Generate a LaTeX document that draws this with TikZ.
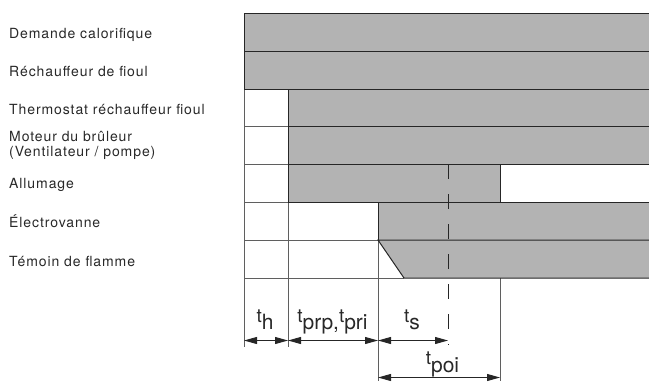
\documentclass[tikz,border=0pt]{standalone}
\usepackage{fontspec}
\setmainfont{TeX Gyre Heros}
\newfontfamily\lblfont{TeX Gyre Heros}[LetterSpace=6.5]
\usetikzlibrary{arrows.meta}
\definecolor{barfill}{RGB}{179,179,179}
\definecolor{txt}{RGB}{40,40,40}
\definecolor{gridc}{RGB}{95,95,95}
\newcommand\tsb[1]{{\fontsize{19}{21}\selectfont t}\raisebox{-7.5pt}{\fontsize{21}{23}\selectfont #1}}
\begin{document}
\begin{tikzpicture}[x=1pt,y=-1pt,
  lbl/.style={anchor=base west, font=\lblfont\fontsize{14}{16}\selectfont, text=txt, inner sep=0pt},
  bar/.style={fill=barfill, draw=black!85, line width=1pt},
  gridline/.style={draw=gridc, line width=0.8pt},
  dashline/.style={draw=black!85, line width=0.8pt, dash pattern=on 15pt off 15pt},
  dim/.style={{Triangle[length=13pt,width=7pt]}-{Triangle[length=13pt,width=7pt]}, line width=0.9pt, draw=black!85, fill=black!85},
  tlab/.style={anchor=base, inner sep=0pt, text=txt, font=\fontsize{21}{23}\selectfont}]
\useasboundingbox (0,0) rectangle (649,381);
% left labels
\node[lbl] (l1) at (9,38) {Demande calorifique};
\node[lbl] (l2) at (9,76) {Réchauffeur de fioul};
\node[lbl] (l3) at (9,114) {Thermostat réchauffeur fioul};
\node[lbl] (l4a) at (9,141.5) {Moteur du brûleur};
\node[lbl] (l4b) at (9,156) {(Ventilateur / pompe)};
\node[lbl] (l5) at (9,188) {Allumage};
\node[lbl] (l6) at (9,227) {Électrovanne};
\node[lbl] (l7) at (9,266) {Témoin de flamme};
% grid lines
\draw[gridline] (244,13) -- (244,347);
\draw[gridline] (288,89) -- (288,347);
\draw[gridline] (378,202) -- (378,381);
\draw[gridline] (500,278) -- (500,381);
\draw[gridline] (244,126) -- (288,126);
\draw[gridline] (244,164) -- (288,164);
\draw[gridline] (244,202) -- (378,202);
\draw[gridline] (244,240) -- (378,240);
\draw[gridline] (244,278) -- (404,278);
% bars
\draw[bar] (244,13) rectangle (656,51);
\draw[bar] (244,51) rectangle (656,89);
\draw[bar] (288,89) rectangle (656,126);
\draw[bar] (288,126) rectangle (656,164);
\draw[bar] (288,164) rectangle (500,202);
\draw[bar] (378,202) rectangle (656,240);
\draw[bar] (378,240) -- (656,240) -- (656,278) -- (404,278) -- cycle;
% dashed marker
\draw[dashline] (448,164) -- (448,345);
% dimension arrows
\coordinate (a0) at (244,340.5);
\coordinate (a1) at (288,340.5);
\coordinate (a2) at (378,340.5);
\coordinate (a3) at (448,340.5);
\coordinate (b0) at (378,377.5);
\coordinate (b1) at (500,377.5);
\draw[dim] (a0) -- (a1);
\draw[dim] (a1) -- (a2);
\draw[dim] (a2) -- (a3);
\draw[dim] (b0) -- (b1);
% time labels
\node[tlab] (th) at (265,322) {\tsb{h}};
\node[tlab] (tprp) at (332.5,322) {\tsb{prp,}\tsb{pri}};
\node[tlab] (ts) at (412,322) {\tsb{s}};
\node[tlab] (tpoi) at (442.5,364.5) {\tsb{poi}};
\end{tikzpicture}
\end{document}
